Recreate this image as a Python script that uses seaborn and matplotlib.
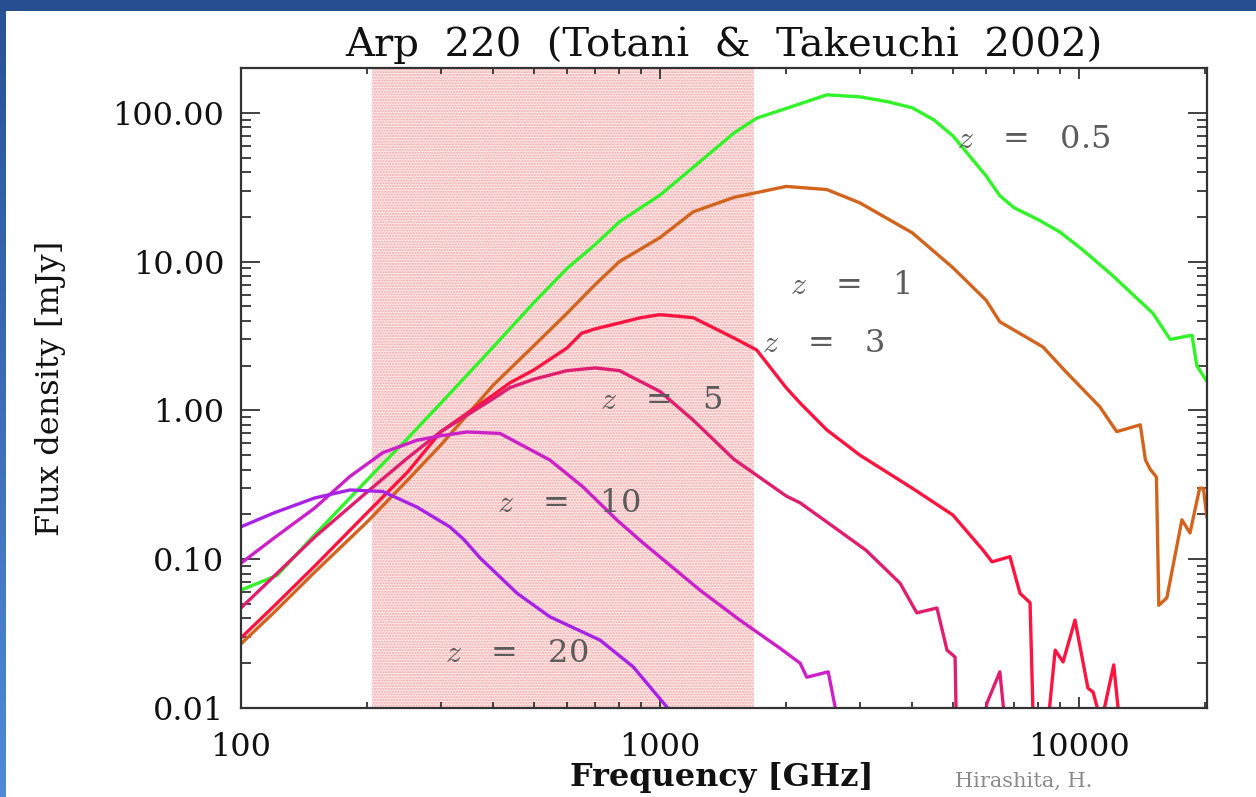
import numpy as np
import pandas as pd
import matplotlib
matplotlib.use("Agg")
import matplotlib.pyplot as plt
import seaborn as sns
from matplotlib.patches import Rectangle
from matplotlib.colors import LinearSegmentedColormap
from matplotlib.ticker import LogLocator, NullFormatter

# ---------------- data ----------------
title = "Arp  220  (Totani  &  Takeuchi  2002)"
x_label = "Frequency [GHz]"
y_label = "Flux density [mJy]"
credit = "Hirashita, H."

series_names = ["z = 0.5", "z = 1", "z = 3", "z = 5", "z = 10", "z = 20"]

freq_z05 = [100, 122, 150, 200, 250, 300, 400, 500, 600, 700, 800, 1000, 1200,
            1500, 1700, 2000, 2500, 3000, 3500, 4000, 4500, 5000, 5500, 6000, 6470,
            7000, 8000, 9000, 10200, 12000, 15000, 16500, 18600, 19100, 20200]
flux_z05 = [0.062, 0.078, 0.146, 0.341, 0.65, 1.12, 2.67, 5.3, 9.0, 13, 18.5, 28,
            43, 73, 92, 107, 132, 128, 118.6, 108, 89.7, 70, 50.6, 37.7, 27.7,
            23, 19.1, 15.8, 12, 8.1, 4.5, 3.0, 3.2, 2.0, 1.56]

freq_z1 = [100, 120, 150, 200, 250, 300, 400, 500, 600, 700, 800, 1000, 1200, 1500,
           2000, 2500, 3000, 4000, 5000, 6000, 6470, 8200, 9350, 11200, 12300,
           14000, 14400, 14800, 15300, 15500, 16200, 17600, 18400, 19400, 19800, 20200]
flux_z1 = [0.027, 0.044, 0.082, 0.178, 0.341, 0.586, 1.48, 2.72, 4.5, 7.0, 10, 14.5,
           21.6, 27, 32, 30.5, 24.8, 15.6, 9.1, 5.5, 3.94, 2.67, 1.79, 1.06, 0.72,
           0.80, 0.465, 0.40, 0.357, 0.049, 0.055, 0.184, 0.150, 0.30, 0.30, 0.19]

freq_z3 = [100, 120, 150, 200, 250, 300, 400, 438, 500, 600, 650, 700, 800, 900,
           1000, 1200, 1500, 1700, 2000, 2160, 2500, 3000, 4000, 5000, 5900, 6200,
           6840, 7230, 7640, 7810, 8300, 8770, 9160, 9780, 10500, 10800, 11300,
           12100, 12700]
flux_z3 = [0.0296, 0.0485, 0.090, 0.205, 0.386, 0.72, 1.27, 1.53, 1.87, 2.63, 3.3,
           3.53, 3.87, 4.2, 4.4, 4.2, 3.07, 2.55, 1.42, 1.12, 0.74, 0.50, 0.30,
           0.198, 0.115, 0.096, 0.104, 0.059, 0.051, 0.005, 0.005, 0.0245, 0.0204,
           0.039, 0.0136, 0.0128, 0.008, 0.0195, 0.005]

freq_z5 = [100, 120, 150, 200, 250, 300, 400, 438, 500, 600, 700, 800, 1000, 1200,
           1500, 2000, 2160, 2500, 3100, 3740, 4100, 4580, 4840, 5060, 5110, 5740,
           6030, 6470, 6770]
flux_z5 = [0.047, 0.077, 0.141, 0.283, 0.48, 0.72, 1.2, 1.42, 1.62, 1.85, 1.93,
           1.85, 1.34, 0.86, 0.47, 0.266, 0.239, 0.178, 0.115, 0.069, 0.0436, 0.047,
           0.0245, 0.022, 0.005, 0.005, 0.0108, 0.0175, 0.005]

freq_z10 = [100, 120, 150, 182, 218, 263, 300, 346, 415, 546, 655, 788, 910, 1245,
            1550, 1930, 2160, 2240, 2520, 2620, 2700]
flux_z10 = [0.094, 0.139, 0.221, 0.36, 0.52, 0.63, 0.675, 0.716, 0.70, 0.464, 0.306,
            0.184, 0.129, 0.062, 0.039, 0.0253, 0.020, 0.0161, 0.0175, 0.0100, 0.006]

freq_z20 = [100, 120, 150, 182, 218, 263, 315, 340, 372, 456, 546, 719, 863, 1040, 1100]
flux_z20 = [0.165, 0.205, 0.258, 0.292, 0.285, 0.224, 0.165, 0.136, 0.102, 0.059,
            0.041, 0.0286, 0.0189, 0.0101, 0.007]

band_lo, band_hi = 205, 1680          # shaded frequency band [GHz]
x_ticks = [100, 1000, 10000]
x_ticklabels = ["100", "1000", "10000"]
y_ticks = [0.01, 0.1, 1, 10, 100]
y_ticklabels = ["0.01", "0.10", "1.00", "10.00", "100.00"]

colors = ["#30f428", "#d2641e", "#ff1440", "#e01e70", "#cc20c8", "#a822e6"]

# ---------------- figure ----------------
sns.set_theme(style="ticks")
plt.rcParams["font.family"] = ["DejaVu Serif", "DejaVu Sans"]
plt.rcParams["mathtext.fontset"] = "cm"
plt.rcParams["hatch.linewidth"] = 1.0

W, H = 1256, 797
fig = plt.figure(figsize=(W / 100, H / 100), dpi=100, facecolor="white")
ax = fig.add_axes([241 / W, 1 - 708 / H, 966 / W, 640 / H])
ax.set_facecolor("white")

freqs = [freq_z05, freq_z1, freq_z3, freq_z5, freq_z10, freq_z20]
fluxes = [flux_z05, flux_z1, flux_z3, flux_z5, flux_z10, flux_z20]
df = pd.concat(
    [pd.DataFrame({"freq": f, "flux": s, "z": n})
     for f, s, n in zip(freqs, fluxes, series_names)],
    ignore_index=True,
)
palette = dict(zip(series_names, colors))

ax.set_xscale("log")
ax.set_yscale("log")
ax.axvspan(band_lo, band_hi, facecolor="#fde6e6", edgecolor="#f4a8a8",
           hatch="......", linewidth=0, zorder=0)

sns.lineplot(data=df, x="freq", y="flux", hue="z", palette=palette,
             estimator=None, sort=False, linewidth=2.4, legend=False, ax=ax,
             zorder=2)

ax.set_xlim(100, 20200)
ax.set_ylim(0.01, 200)

ax.set_xticks(x_ticks, labels=x_ticklabels)
ax.set_yticks(y_ticks, labels=y_ticklabels)
ax.xaxis.set_minor_locator(LogLocator(base=10, subs=np.arange(2, 10), numticks=20))
ax.yaxis.set_minor_locator(LogLocator(base=10, subs=np.arange(2, 10), numticks=20))
ax.xaxis.set_minor_formatter(NullFormatter())
ax.yaxis.set_minor_formatter(NullFormatter())

ax.tick_params(which="both", direction="in", top=True, right=True,
               color="#333333", width=1.3, labelcolor="#111111")
ax.tick_params(axis="y", which="major", length=14, pad=12, labelsize=23)
ax.tick_params(axis="y", which="minor", length=7)
ax.tick_params(axis="x", which="major", length=8, pad=17, labelsize=23)
ax.tick_params(axis="x", which="minor", length=4)
for sp in ax.spines.values():
    sp.set_linewidth(1.6)
    sp.set_color("#333333")

ax.set_xlabel(x_label, fontsize=23, fontweight="bold", color="#111111")
ax.set_ylabel(y_label, fontsize=23, color="#111111")
ax.xaxis.set_label_coords((722 - 241) / 966, (708 - 762) / 640)
ax.yaxis.set_label_coords((66 - 241) / 966, 0.5)

ax.set_title(title, fontsize=29, pad=9, color="#111111")

# redshift labels
label_pos = [(957, 140), (790, 285), (762, 343), (600, 400), (497, 503), (445, 653)]
label_texts = [r"$z$   =   0.5", r"$z$   =   1", r"$z$   =   3", r"$z$   =   5",
               r"$z$   =   10", r"$z$   =   20"]
for (px, py), t in zip(label_pos, label_texts):
    ax.text((px - 241) / 966, (708 - py) / 640, t, transform=ax.transAxes,
            ha="left", va="center", fontsize=23, color="#5c5c5c", zorder=3)

fig.text(955 / W, 1 - 781 / H, credit, ha="left", va="center",
         fontsize=15, color="#8a8a8a")

# slide frame (blue bands)
fig.add_artist(Rectangle((0, 1 - 11 / H), 1, 11 / H, transform=fig.transFigure,
                         facecolor="#274e90", edgecolor="none", zorder=10))
lax = fig.add_axes([0, 0, 6 / W, 1 - 11 / H])
grad = np.linspace(0, 1, 256).reshape(-1, 1)
cmap = LinearSegmentedColormap.from_list("frame", ["#2a5296", "#4f8ad6"])
lax.imshow(grad, aspect="auto", cmap=cmap)
lax.axis("off")

fig.savefig("out.png", dpi=100, facecolor="white")
